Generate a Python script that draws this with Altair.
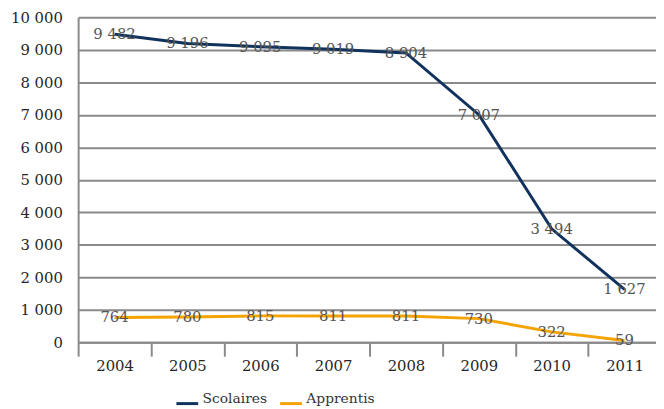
import altair as alt
import pandas as pd

years = ["2004", "2005", "2006", "2007", "2008", "2009", "2010", "2011"]
scolaires = [9482, 9196, 9095, 9019, 8904, 7007, 3494, 1627]
apprentis = [764, 780, 815, 811, 811, 730, 322, 59]
series = ["Scolaires", "Apprentis"]
colors = ["#10325c", "#f5a300"]

rows = []
for name, vals in zip(series, [scolaires, apprentis]):
    for y, v in zip(years, vals):
        rows.append({"annee": y, "serie": name, "valeur": v,
                     "label": f"{v:,}".replace(",", " ")})
df = pd.DataFrame(rows)

FONT = "DejaVu Serif"
FS = 15

x = alt.X("annee:N", title=None, sort=years,
          scale=alt.Scale(range=[0, 590], paddingInner=0, paddingOuter=0),
          axis=alt.Axis(labelAngle=0, tickBand="extent", grid=False,
                        domainColor="#8a8a8a", domainWidth=2,
                        tickColor="#8a8a8a", tickWidth=2, tickSize=14,
                        labelPadding=2, labelFont=FONT, labelFontSize=FS,
                        labelColor="#262626"))
y = alt.Y("valeur:Q", title=None,
          scale=alt.Scale(domain=[0, 10000], nice=False),
          axis=alt.Axis(values=list(range(0, 10001, 1000)), ticks=False,
                        grid=True, gridColor="#8a8a8a", gridWidth=2,
                        domainColor="#8a8a8a", domainWidth=2,
                        labelOverlap=False,
                        labelPadding=16, labelFont=FONT, labelFontSize=FS,
                        labelColor="#262626",
                        labelExpr="replace(format(datum.value, ','), ',', ' ')"))

color = alt.Color("serie:N", sort=series,
                  scale=alt.Scale(domain=series, range=colors),
                  legend=alt.Legend(title=None, orient="none", direction="horizontal",
                                    legendX=98, legendY=373.5, padding=0,
                                    symbolType="M-1,0.41L1,0.41", symbolSize=484,
                                    symbolStrokeWidth=3, labelOffset=3,
                                    columnPadding=6, labelFont=FONT,
                                    labelFontSize=14, labelColor="#333333"))

base = alt.Chart(df)
lines = base.mark_line(strokeWidth=3).encode(x=x, y=y, color=color, detail="serie:N")
labels = base.mark_text(font=FONT, fontSize=FS, color="#555555",
                        baseline="middle", align="center").encode(
    x=x, y=y, text="label:N")

chart = alt.layer(lines, labels).properties(
    width=585, height=329,
    autosize=alt.AutoSizeParams(type="none"),
    padding={"left": 71, "top": 7, "right": 0, "bottom": 65},
    background="white",
).configure_view(stroke=None)

chart.save("out.html", embed_options={"renderer": "svg", "actions": False})
